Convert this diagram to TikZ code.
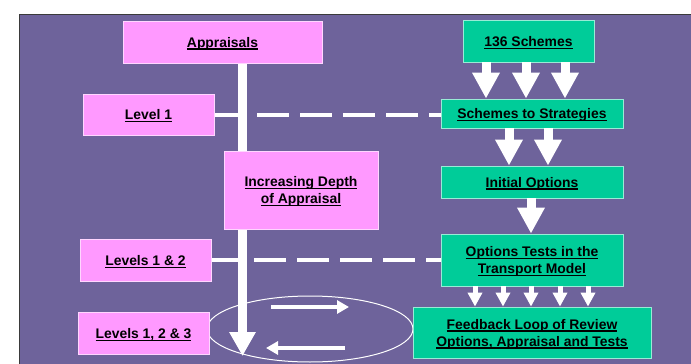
\documentclass[tikz,border=0pt]{standalone}
\usepackage{fontspec}
\setmainfont{Liberation Sans}
\usetikzlibrary{arrows.meta,shapes.geometric}
\definecolor{bgpurple}{HTML}{6E639B}
\definecolor{boxpink}{HTML}{FF99FF}
\definecolor{boxgreen}{HTML}{00CC99}
\definecolor{pinkedge}{HTML}{FFD6FF}
\definecolor{greenedge}{HTML}{99EBD6}
\definecolor{frameline}{HTML}{3A3A3A}
\newcommand\ulx[1]{\leavevmode\setbox0\hbox{#1}\raisebox{-1.6pt}[\height][\depth]{\rlap{\rule[-2.4pt]{\wd0}{1.3pt}}\box0}}
\pgfdeclarelayer{back}
\pgfdeclarelayer{bg}
\pgfsetlayers{back,bg,main}
\tikzset{
  basebox/.style={rectangle, inner sep=0pt, line width=0.8pt, align=center,
    font=\fontsize{13.9}{17}\selectfont\bfseries, text=black},
  pinkbox/.style={basebox, fill=boxpink, draw=pinkedge},
  greenbox/.style={basebox, fill=boxgreen, draw=greenedge},
  bigarrow/.style={draw=white, line width=9pt, -{Triangle[width=26pt,length=26pt]}},
  tinyarrow/.style={draw=white, line width=5pt, -{Triangle[width=14pt,length=14pt]}},
  looparrow/.style={draw=white, line width=4.5pt, -{Triangle[width=13pt,length=12pt]}},
  barrow/.style={draw=white, line width=9pt, -{Triangle[width=25pt,length=24pt]}},
  dashlink/.style={draw=white, line width=4pt, dash pattern=on 32pt off 11pt},
}
\begin{document}
\begin{tikzpicture}[x=1pt,y=-1pt]
\useasboundingbox (0,0) rectangle (691,364);
% boxes
\node[pinkbox, minimum width=199pt, minimum height=42pt] (app) at (222.5,42) {\ulx{Appraisals}};
\node[pinkbox, minimum width=131pt, minimum height=41pt] (lv1) at (148.5,114.5) {\ulx{Level 1}};
\node[pinkbox, minimum width=154pt, minimum height=78pt] (inc) at (301,190) {\ulx{Increasing Depth}\\\ulx{of Appraisal}};
\node[pinkbox, minimum width=131pt, minimum height=42pt] (lv12) at (145.5,260) {\ulx{Levels 1 \& 2}};
\node[pinkbox, minimum width=131pt, minimum height=42pt] (lv123) at (143.5,333) {\ulx{Levels 1, 2 \& 3}};
\node[greenbox, minimum width=131pt, minimum height=42pt] (s136) at (528.5,41) {\ulx{136 Schemes}};
\node[greenbox, minimum width=182pt, minimum height=29pt] (strat) at (532,113.5) {\ulx{Schemes to Strategies}};
\node[greenbox, minimum width=182pt, minimum height=32pt] (init) at (532,182) {\ulx{Initial Options}};
\node[greenbox, minimum width=182pt, minimum height=52pt] (tests) at (532,260) {\ulx{Options Tests in the}\\\ulx{Transport Model}};
\node[greenbox, minimum width=238pt, minimum height=51pt] (feed) at (532,332.5) {\ulx{Feedback Loop of Review}\\\ulx{Options, Appraisal and Tests}};
% coordinates
\coordinate (bartop) at ([xshift=20pt]app.south);
\coordinate (bartip) at (242.5,356);
\coordinate (ra) at (271,307);
\coordinate (rb) at (349,307);
\coordinate (la) at (345,348);
\coordinate (lb) at (266,348);
\begin{pgfonlayer}{back}
  \fill[white] (0,0) rectangle (691,364);
  \fill[bgpurple] (19,14) rectangle (691,364);
  \draw[frameline, line width=1pt] (19,364) -- (19,14) -- (691,14);
\end{pgfonlayer}
\begin{pgfonlayer}{bg}
  \draw[barrow] (bartop) -- (bartip);
  \node[ellipse, draw=white, line width=1pt, minimum width=206pt, minimum height=66pt, inner sep=0pt] (loop) at (310,329) {};
  \draw[dashlink] (lv1.east) -- (lv1.east -| strat.west);
  \draw[dashlink] (lv12.east) -- (lv12.east -| tests.west);
\end{pgfonlayer}
% arrows
\foreach \dx in {-42.5,-2.5,36.5}
  \draw[bigarrow] ([xshift=\dx pt]s136.south) -- ([xshift=\dx pt]s136.south |- strat.north);
\foreach \dx in {-23,16}
  \draw[bigarrow] ([xshift=\dx pt]strat.south) -- ([xshift=\dx pt]strat.south |- init.north);
\draw[bigarrow] ([xshift=-1pt]init.south) -- ([xshift=-1pt]init.south |- tests.north);
\foreach \dx in {-57,-29,-1,28,56}
  \draw[tinyarrow] ([xshift=\dx pt]tests.south) -- ([xshift=\dx pt]tests.south |- feed.north);
\draw[looparrow] (ra) -- (rb);
\draw[looparrow] (la) -- (lb);
\end{tikzpicture}
\end{document}
